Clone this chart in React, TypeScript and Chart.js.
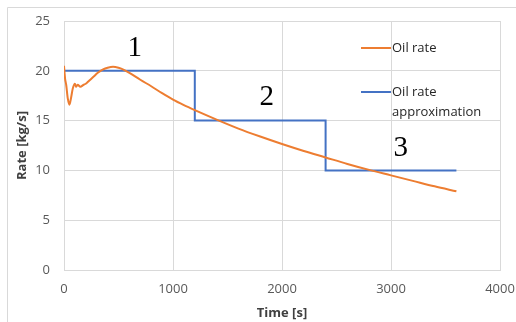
import React, { useEffect, useRef } from "react";
import { Chart, registerables } from "chart.js";

Chart.register(...registerables);

// Oil rate (orange) — time [s] and rate [kg/s]
const oilTime = [0, 5, 10, 20, 35, 50, 65, 80, 100, 110, 125, 150, 180, 200, 230, 270, 310, 350, 400, 450, 500, 550, 600, 700, 800, 900, 1000, 1100, 1200, 1400, 1600, 1800, 2000, 2200, 2400, 2600, 2800, 3000, 3200, 3400, 3600];
const oilRate = [20.5, 19.8, 19.2, 18.6, 17.2, 16.6, 17.3, 18.2, 18.7, 18.4, 18.6, 18.4, 18.6, 18.7, 19.0, 19.4, 19.8, 20.1, 20.3, 20.4, 20.3, 20.1, 19.8, 19.1, 18.45, 17.75, 17.1, 16.55, 16.05, 15.1, 14.2, 13.4, 12.65, 11.95, 11.3, 10.65, 10.05, 9.5, 8.95, 8.4, 7.9];

// Oil rate approximation (blue step)
const approxTime = [0, 1200, 1200, 2400, 2400, 3600];
const approxRate = [20, 20, 15, 15, 10, 10];

// Stage labels placed in data coordinates
const stageText = ["1", "2", "3"];
const stageTime = [650, 1860, 3090];
const stageRate = [22.3, 17.3, 12.2];

const seriesNames = ["Oil rate", "Oil rate approximation"];
const seriesColors = ["#ED7D31", "#4472C4"];

const xTicks = [0, 1000, 2000, 3000, 4000];
const yTicks = [0, 5, 10, 15, 20, 25];

const FONT = "'Open Sans', 'Noto Sans', sans-serif";

export default function App() {
  const ref = useRef<HTMLCanvasElement | null>(null);

  useEffect(() => {
    if (!ref.current) return;

    const decor = {
      id: "decor",
      beforeDraw(chart: any) {
        const ctx = chart.ctx;
        ctx.save();
        ctx.strokeStyle = "#d9d9d9";
        ctx.lineWidth = 1;
        ctx.beginPath();
        ctx.moveTo(7.5, 322);
        ctx.lineTo(7.5, 7.5);
        ctx.lineTo(516, 7.5);
        ctx.stroke();
        ctx.restore();
      },
      afterDraw(chart: any) {
        const ctx = chart.ctx;
        const xs = chart.scales.x;
        const ys = chart.scales.y;
        ctx.save();
        // stage numbers
        ctx.fillStyle = "#000";
        ctx.font = "29px 'Liberation Serif', 'Times New Roman', serif";
        ctx.textAlign = "center";
        ctx.textBaseline = "middle";
        stageText.forEach((t, i) => {
          ctx.fillText(t, xs.getPixelForValue(stageTime[i]), ys.getPixelForValue(stageRate[i]));
        });
        // legend
        ctx.font = "13px " + FONT;
        ctx.textAlign = "left";
        ctx.fillStyle = "#262626";
        const lx0 = 361, lx1 = 391;
        const rows = [
          { y: 48, lines: [seriesNames[0]] },
          { y: 92, lines: ["Oil rate", "approximation"] },
        ];
        rows.forEach((r, i) => {
          ctx.strokeStyle = seriesColors[i];
          ctx.lineWidth = 2;
          ctx.beginPath();
          ctx.moveTo(lx0, r.y);
          ctx.lineTo(lx1, r.y);
          ctx.stroke();
          r.lines.forEach((l, j) => ctx.fillText(l, lx1 + 1, r.y + j * 20));
        });
        ctx.restore();
      },
    };

    const chart = new Chart(ref.current, {
      type: "line",
      data: {
        datasets: [
          {
            label: seriesNames[0],
            data: oilTime.map((t, i) => ({ x: t, y: oilRate[i] })),
            borderColor: seriesColors[0],
            backgroundColor: seriesColors[0],
            borderWidth: 2,
            pointRadius: 0,
            cubicInterpolationMode: "monotone",
          },
          {
            label: seriesNames[1],
            data: approxTime.map((t, i) => ({ x: t, y: approxRate[i] })),
            borderColor: seriesColors[1],
            backgroundColor: seriesColors[1],
            borderWidth: 2,
            pointRadius: 0,
            tension: 0,
          },
        ],
      },
      options: {
        animation: false,
        responsive: false,
        maintainAspectRatio: false,
        layout: { padding: { left: 0, right: 16, top: 21, bottom: 0 } },
        plugins: { legend: { display: false }, tooltip: { enabled: false } },
        scales: {
          x: {
            type: "linear",
            min: 0,
            max: 4000,
            afterBuildTicks: (s: any) => {
              s.ticks = xTicks.map((v) => ({ value: v }));
            },
            afterFit: (s: any) => {
              s.height = 52;
              s.paddingLeft = 0;
              s.paddingRight = 0;
            },
            grid: { color: "#d9d9d9", drawTicks: false },
            border: { color: "#d9d9d9" },
            ticks: {
              padding: 11,
              color: "#595959",
              font: { family: FONT, size: 13 },
              callback: (v: any) => String(v),
            },
            title: {
              display: true,
              text: "Time [s]",
              color: "#404040",
              font: { family: FONT, size: 13, weight: "bold" },
              padding: { top: 0, bottom: 1 },
            },
          },
          y: {
            type: "linear",
            min: 0,
            max: 25,
            afterBuildTicks: (s: any) => {
              s.ticks = yTicks.map((v) => ({ value: v }));
            },
            afterFit: (s: any) => {
              s.width = 64;
              s.paddingTop = 0;
              s.paddingBottom = 0;
            },
            grid: { color: "#d9d9d9", drawTicks: false },
            border: { color: "#d9d9d9" },
            ticks: {
              padding: 14,
              color: "#595959",
              font: { family: FONT, size: 13 },
              callback: (v: any) => String(v),
            },
            title: {
              display: true,
              text: "Rate [kg/s]",
              color: "#404040",
              font: { family: FONT, size: 13, weight: "bold" },
              padding: { top: 14, bottom: 0 },
            },
          },
        },
      },
      plugins: [decor],
    } as any);

    return () => chart.destroy();
  }, []);

  return (
    <div style={{ position: "fixed", left: 0, top: 0, width: 516, height: 322, background: "#fff" }}>
      <canvas ref={ref} width={516} height={322} style={{ display: "block" }} />
    </div>
  );
}
